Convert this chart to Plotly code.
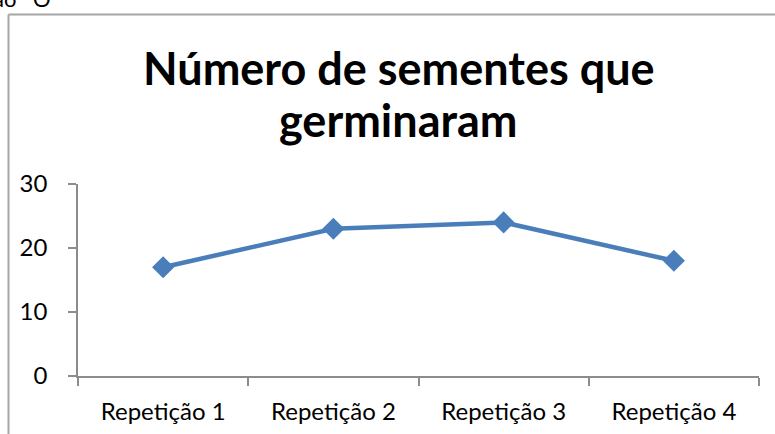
import plotly.graph_objects as go

# Germinated seeds per repetition
categorias = ["Repetição 1", "Repetição 2", "Repetição 3", "Repetição 4"]
sementes = [17, 23, 24, 18]
y_ticks = [0, 10, 20, 30]

W, H = 775, 434

def px_x(p):
    return p / W

def px_y(p):
    return (H - p) / H

fig = go.Figure(
    go.Scatter(
        x=categorias,
        y=sementes,
        mode="lines+markers",
        line=dict(color="#4a7ebb", width=4.5),
        marker=dict(symbol="diamond", size=17, color="#4a7ebb"),
        showlegend=False,
        hoverinfo="skip",
    )
)

axis_grey = "#8c8c8c"
font = "Lato, 'Open Sans', sans-serif"

fig.update_layout(
    width=W,
    height=H,
    margin=dict(l=0, r=0, t=0, b=0),
    paper_bgcolor="white",
    plot_bgcolor="white",
    font=dict(family=font, color="#000000"),
    xaxis=dict(
        domain=[px_x(78), px_x(759)],
        type="category",
        range=[-0.5, 3.5],
        tickson="boundaries",
        ticks="outside",
        ticklen=8,
        tickwidth=1.5,
        tickcolor=axis_grey,
        showline=True,
        linecolor=axis_grey,
        linewidth=1.5,
        showgrid=False,
        zeroline=False,
        automargin=False,
        tickfont=dict(size=24, family=font, color="#000000"),
        ticklabelstandoff=13,
    ),
    yaxis=dict(
        domain=[px_y(376), px_y(184)],
        range=[0, 30],
        tickvals=y_ticks,
        ticks="outside",
        ticklen=8,
        tickwidth=1.5,
        tickcolor=axis_grey,
        showline=True,
        linecolor=axis_grey,
        linewidth=1.5,
        showgrid=False,
        zeroline=False,
        automargin=False,
        tickfont=dict(size=24, family=font, color="#000000"),
        ticklabelstandoff=16,
    ),
    shapes=[
        dict(type="line", xref="paper", yref="paper",
             x0=px_x(8.5), x1=px_x(8.5), y0=px_y(14.5), y1=-0.05,
             line=dict(color="#a6a6a6", width=2)),
        dict(type="line", xref="paper", yref="paper",
             x0=px_x(8.5), x1=1.05, y0=px_y(14.5), y1=px_y(14.5),
             line=dict(color="#a6a6a6", width=2)),
    ],
    annotations=[
        dict(text="<b>Número de sementes que</b>",
             xref="paper", yref="paper", x=px_x(399), y=px_y(68),
             xanchor="center", yanchor="middle", showarrow=False,
             font=dict(size=45, family=font, color="#000000")),
        dict(text="<b>germinaram</b>",
             xref="paper", yref="paper", x=px_x(398), y=px_y(120),
             xanchor="center", yanchor="middle", showarrow=False,
             font=dict(size=45, family=font, color="#000000")),
        dict(text="ão\u2003O", xref="paper", yref="paper",
             x=px_x(-9), y=px_y(14), xanchor="left", yanchor="bottom",
             showarrow=False, font=dict(size=22, family=font, color="#000000")),
    ],
)

fig.write_html("out.html")
